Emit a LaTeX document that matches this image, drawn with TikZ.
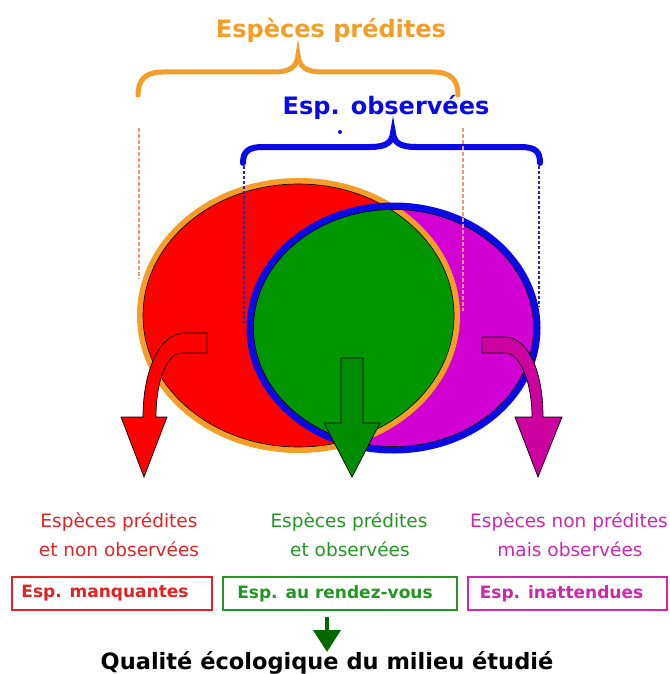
\documentclass[tikz,border=0pt]{standalone}
\usepackage{fontspec}
\setmainfont{DejaVu Sans}
\usetikzlibrary{arrows.meta}
\definecolor{orgC}{RGB}{243,158,40}
\definecolor{bluC}{RGB}{10,10,230}
\definecolor{redC}{RGB}{255,0,0}
\definecolor{grnC}{RGB}{0,150,0}
\definecolor{grnA}{RGB}{0,140,0}
\definecolor{magC}{RGB}{210,0,210}
\definecolor{magA}{RGB}{205,0,160}
\definecolor{redT}{RGB}{225,35,35}
\definecolor{grnT}{RGB}{35,150,35}
\definecolor{magT}{RGB}{205,40,170}
\definecolor{dashO}{RGB}{235,155,115}
\definecolor{dashB}{RGB}{40,40,170}
\definecolor{dgrn}{RGB}{0,105,0}
\begin{document}
\begin{tikzpicture}[x=1pt,y=-1pt,
  titlefont/.style={font=\fontsize{24}{28}\selectfont\bfseries, inner sep=0pt},
  lbl/.style={font=\fontsize{18.5}{22}\selectfont, inner sep=0pt, anchor=base},
  boxlbl/.style={font=\fontsize{17}{20}\selectfont\bfseries, inner sep=0pt},
  catbox/.style={draw, line width=2pt, minimum height=33pt, inner sep=0pt},
  bigarrow/.style={draw=black, line width=0.7pt, line join=miter},
  odash/.style={dashO, line width=1.5pt, dash pattern=on 4pt off 2pt},
  bdash/.style={dashB, line width=2pt, dash pattern=on 3pt off 2pt}]
\useasboundingbox (0,0) rectangle (669,674);
\fill[white] (0,0) rectangle (669,674);

% titles
\node[titlefont, text=orgC, anchor=base] (tpred) at (331,38) {Espèces prédites};
\node[titlefont, text=bluC, anchor=base] (tobs) at (386,115) {Esp. observées};

% braces
\draw[orgC, line width=5pt, line cap=round] (138,95) .. controls (138,80) and (145,72) .. (163,72) -- (274,72) .. controls (291,72) and (297,66) .. (298,55) .. controls (299,66) and (305,72) .. (322,72) -- (433,72) .. controls (451,72) and (458,80) .. (458,95);
\draw[bluC, line width=6pt, line cap=round] (243,163) .. controls (243,151) and (249,147) .. (263,147) -- (370,147) .. controls (387,147) and (392,142) .. (393,133) .. controls (394,142) and (399,147) .. (416,147) -- (520,147) .. controls (535,147) and (540,151) .. (540,163);
\fill[bluC] (340,132) circle (2pt);

% ellipses
\fill[redC] (298.5,315.5) ellipse [x radius=158.5, y radius=134.5];
\fill[magC] (393.5,328) ellipse [x radius=143.5, y radius=122];
\begin{scope}
  \clip (298.5,315.5) ellipse [x radius=158.5, y radius=134.5];
  \fill[grnC] (393.5,328) ellipse [x radius=143.5, y radius=122];
\end{scope}
\draw[orgC, line width=6pt] (298.5,315.5) ellipse [x radius=158.5, y radius=134.5];
\draw[black, line width=0.6pt] (298.5,315.5) ellipse [x radius=155.5, y radius=131.5];
\draw[bluC, line width=7pt] (393.5,328) ellipse [x radius=143.5, y radius=122];
\draw[black, line width=0.6pt] (393.5,328) ellipse [x radius=140, y radius=118.5];

% dashed guides
\draw[odash] (139,128) -- (139,279);
\draw[odash] (463,128) -- (463,311);
\draw[bdash] (244,166) -- (244,323);
\draw[bdash] (539,166) -- (539,307);

% arrows
\filldraw[bigarrow, fill=redC] (207,333) -- (185,333) .. controls (160,333) and (143,370) .. (143,417) -- (121,417) -- (144,477) -- (167,417) -- (156,417) .. controls (156,385) and (165,353) .. (182,353) -- (207,353) -- cycle;
\filldraw[bigarrow, fill=grnA] (341,358) -- (363,358) -- (363,423) -- (380,423) -- (352,477) -- (324,423) -- (341,423) -- cycle;
\filldraw[bigarrow, fill=magA] (482,337) -- (505,337) .. controls (525,337) and (543,365) .. (543,417) -- (562,417) -- (538,477) -- (515,417) -- (532,417) .. controls (532,382) and (520,353) .. (505,353) -- (482,353) -- cycle;

% labels
\node[lbl, text=redT] (r1) at (119,527) {Espèces prédites};
\node[lbl, text=redT] (r2) at (119,556) {et non observées};
\node[lbl, text=grnT] (g1) at (349,527) {Espèces prédites};
\node[lbl, text=grnT] (g2) at (350,556) {et observées};
\node[lbl, text=magT] (m1) at (569,527) {Espèces non prédites};
\node[lbl, text=magT] (m2) at (570,556) {mais observées};

% boxes
\node[catbox, draw=redT, minimum width=200pt] (bm) at (112,593.5) {};
\node[boxlbl, text=redT] (bmt) at ([xshift=-7pt]bm.center) {Esp. manquantes};
\node[catbox, draw=grnT, minimum width=234pt] (bg) at (340,593.5) {};
\node[boxlbl, text=grnT] (bgt) at ([xshift=-5pt]bg.center) {Esp. au rendez-vous};
\node[catbox, draw=magT, minimum width=199pt] (bi) at (567.5,593.5) {};
\node[boxlbl, text=magT] (bit) at ([xshift=-6pt]bi.center) {Esp. inattendues};

% bottom
\node[font=\fontsize{22.5}{26}\selectfont\bfseries, inner sep=0pt, anchor=base] (q) at (327,669) {Qualité écologique du milieu étudié};
\coordinate (qa) at (327,617);
\coordinate (qb) at (327,652);
\draw[dgrn, line width=4pt, -{Triangle[width=27pt,length=22pt]}] (qa) -- (qb);
\end{tikzpicture}
\end{document}
